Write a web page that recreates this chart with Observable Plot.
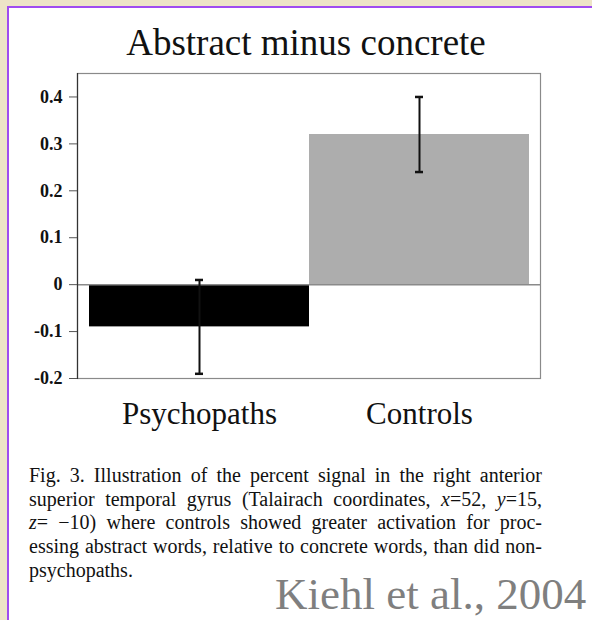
<!DOCTYPE html>
<html><head><meta charset="utf-8">
<script src="https://cdn.jsdelivr.net/npm/d3@7"></script>
<script src="https://cdn.jsdelivr.net/npm/@observablehq/plot@0.6"></script>
<style>
html,body{margin:0;padding:0;width:592px;height:620px;overflow:hidden;background:#ede4c7;}
#panel{position:absolute;left:7px;top:6px;right:0;bottom:0;background:#fff;border-left:2px solid #a04cf0;border-top:2px solid #a04cf0;}
#title{position:absolute;left:0;width:612px;top:24px;text-align:center;font:37px/37px "Liberation Serif","Times New Roman",serif;color:#111;white-space:nowrap;}
#chart{position:absolute;left:0;top:60px;}
#caption{position:absolute;left:29px;top:464px;width:513px;font:20px/23.7px "Liberation Serif","Times New Roman",serif;color:#111;}
#caption div{text-align:justify;text-align-last:justify;white-space:nowrap;}
#caption div.last{text-align-last:left;}
#cite{position:absolute;left:275px;top:572px;font:45px/45px "Liberation Serif","Times New Roman",serif;color:#7f7f7f;white-space:nowrap;}
</style>
</head><body>
<div id="panel"></div>
<div id="title"></div>
<div id="chart"></div>
<div id="caption"></div>
<div id="cite"></div>
<script>
const titleText = "Abstract minus concrete";
const groups = ["Psychopaths", "Controls"];
const means = [-0.09, 0.32];
const errLow = [-0.19, 0.24];
const errHigh = [0.01, 0.40];
const barColors = ["#000000", "#adadad"];
const yTicks = [-0.2, -0.1, 0, 0.1, 0.2, 0.3, 0.4];
const yDomain = [-0.2, 0.45];
const captionLines = [
  "Fig. 3. Illustration of the percent signal in the right anterior",
  "superior temporal gyrus (Talairach coordinates, <i>x</i>=52, <i>y</i>=15,",
  "<i>z</i>= \u221210) where controls showed greater activation for proc-",
  "essing abstract words, relative to concrete words, than did non-",
  "psychopaths."
];
const citation = "Kiehl et al., 2004";

const data = groups.map((g, i) => ({group: g, mean: means[i], lo: errLow[i], hi: errHigh[i]}));
const serif = "Liberation Serif, Times New Roman, serif";

document.getElementById("title").textContent = titleText;
document.getElementById("cite").textContent = citation;
document.getElementById("caption").innerHTML = captionLines.map((l, i) =>
  `<div class="${i === captionLines.length - 1 ? "last" : ""}">${l}</div>`).join("");

const chart = Plot.plot({
  width: 592,
  height: 380,
  marginLeft: 77,
  marginRight: 52,
  marginTop: 13,
  marginBottom: 62,
  style: {background: "transparent", fontFamily: serif, color: "#111"},
  x: {domain: groups, paddingInner: 0, paddingOuter: 0.048, label: null},
  y: {domain: yDomain, label: null},
  color: {domain: groups, range: barColors},
  marks: [
    Plot.barY(data, {x: "group", y: "mean", fill: "group"}),
    Plot.ruleY([0], {stroke: "#8a8a8a", strokeWidth: 1.5}),
    Plot.frame({stroke: "#8a8a8a", strokeWidth: 1.2}),
    Plot.frame({anchor: "left", stroke: "#333", strokeWidth: 1.2}),
    Plot.ruleX(data, {x: "group", y1: "lo", y2: "hi", stroke: "#111", strokeWidth: 2}),
    Plot.tickY(data, {x: "group", y: "lo", insetLeft: 106, insetRight: 106, stroke: "#111", strokeWidth: 2.5}),
    Plot.tickY(data, {x: "group", y: "hi", insetLeft: 106, insetRight: 106, stroke: "#111", strokeWidth: 2.5}),
    Plot.axisY({ticks: yTicks, tickSize: 8, tickPadding: 7, stroke: "#555",
      tickFormat: d => d === 0 ? "0" : d.toFixed(1),
      fontSize: 18, fontWeight: "bold", fontFamily: serif, fill: "#111", label: null}),
    Plot.axisX({tickSize: 0, tickPadding: 23, fontSize: 31, fontFamily: serif, fill: "#111", label: null})
  ]
});
document.getElementById("chart").appendChild(chart);
</script>
</body></html>
